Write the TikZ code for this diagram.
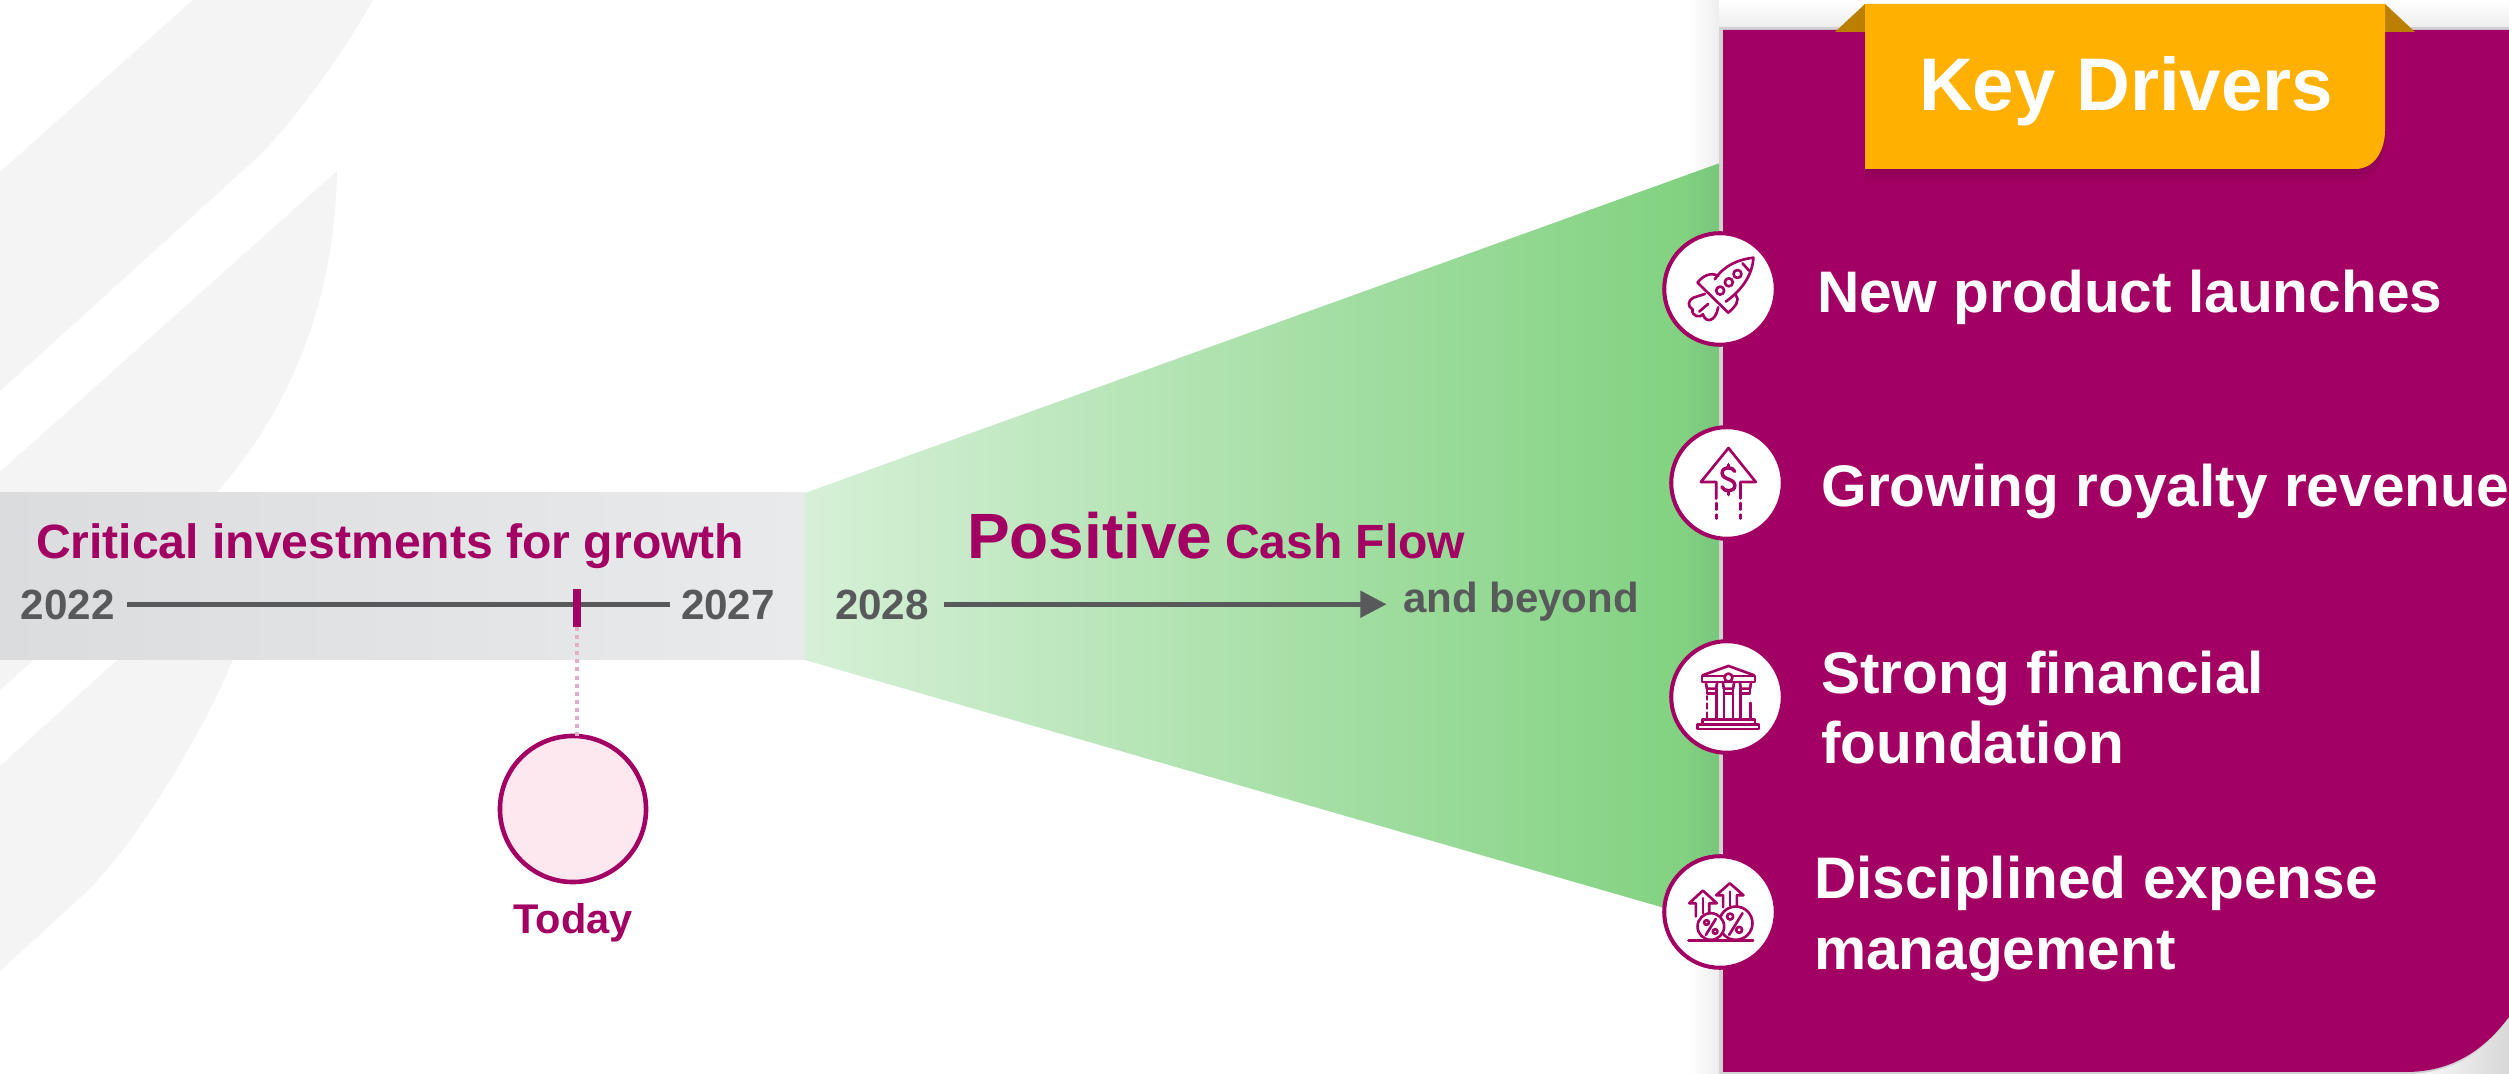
\documentclass[tikz,border=0pt]{standalone}
\usepackage{fontspec}
\setmainfont{Liberation Sans}
\usetikzlibrary{arrows.meta}
\definecolor{mag}{HTML}{A20063}
\definecolor{gry}{HTML}{58595B}
\definecolor{wing}{HTML}{F4F4F4}
\definecolor{amber}{HTML}{FFB000}
\definecolor{foldc}{HTML}{BC8000}
\definecolor{edgeg}{HTML}{D2D2D4}
\definecolor{shadowc}{HTML}{8E0056}
\definecolor{softg}{HTML}{EEEEEE}
\definecolor{bandl}{HTML}{DBDCDE}
\definecolor{bandr}{HTML}{E9EAEC}
\definecolor{todayf}{HTML}{FDE8EF}
\definecolor{dotc}{HTML}{E0AFC8}
\pgfdeclarehorizontalshading{greenfade}{100bp}{
  rgb(0bp)=(0.839,0.941,0.843);
  rgb(25bp)=(0.839,0.941,0.843);
  rgb(73bp)=(0.510,0.824,0.506);
  rgb(75bp)=(0.470,0.772,0.486);
  rgb(100bp)=(0.470,0.772,0.486)}
\tikzset{
  txt/.style={inner sep=0pt,outer sep=0pt,anchor=base west,font=\bfseries},
  drv/.style={txt,text=white,font=\fontsize{16.67pt}{20pt}\bfseries},
  yr/.style={txt,text=gry,font=\fontsize{12.0pt}{14pt}\bfseries},
  tline/.style={draw=gry,line width=1.3pt},
  iconc/.style={circle,draw=mag,fill=white,line width=1.15pt,minimum size=1.115cm,inner sep=0pt,outer sep=0pt},
  ic/.style={draw=mag,line width=0.75pt,line join=round,line cap=round},
  zoomA/.style={shift={(16.40cm,-2.00cm)},x=0.00333cm,y=-0.00333cm},
  zoomB/.style={shift={(16.40cm,-6.20cm)},x=0.00333cm,y=-0.00333cm}
}
\begin{document}
\begin{tikzpicture}[x=0.01cm,y=-0.01cm]
\useasboundingbox (0,0) rectangle (2509,1074);
\fill[white] (0,0) rectangle (2509,1074);
% background wings
\fill[wing] (0,172) -- (193,0) -- (373,0) .. controls (345,50) and (292,126) .. (250,164) -- (0,391) -- cycle;
\fill[wing] (0,472) -- (337,171) .. controls (335,300) and (290,410) .. (217,492) -- (100,600) -- (0,690) -- cycle;
\fill[wing] (0,766) -- (250,540) -- (233,659) .. controls (205,730) and (133,849) .. (83,895) -- (0,971) -- cycle;
% soft shadow of the panel
\shade[left color=white,right color=softg] (1690,0) rectangle (1719,1074);
\shade[top color=white,bottom color=softg] (1719,0) rectangle (2509,27);
\shade[left color=white,right color=softg!80!gray] (2400,1000) rectangle (2509,1074);
% grey band and green funnel
\shade[left color=bandl,right color=bandr] (0,493) rectangle (805,660);
\shade[shading=greenfade] (805,493) -- (1720,163) -- (1720,924) -- (805,660) -- cycle;
% panel
\fill[edgeg] (1719,27) -- (2509,27) -- (2509,1017) .. controls (2495,1037) and (2465,1074) .. (2406,1074) -- (1719,1074) -- cycle;
\fill[mag] (1723,30) -- (2509,30) -- (2509,1017) .. controls (2495,1035) and (2465,1072) .. (2406,1072) -- (1723,1072) -- cycle;
% banner shadow layers
\foreach \d/\m in {14/15,11/35,8/55,5/75,2/100}{
  \fill[shadowc!\m!mag] (1865,30+\d) -- (2385,30+\d) -- (2385,130+\d) .. controls (2385,150+\d) and (2375,169+\d) .. (2355,169+\d) -- (1865,169+\d) -- cycle;
}
% banner folds and banner
\fill[foldc] (1865,4) -- (1835,32) -- (1865,32) -- cycle;
\fill[foldc] (2385,4) -- (2415,32) -- (2385,32) -- cycle;
\fill[amber] (1865,4) -- (2385,4) -- (2385,130) .. controls (2385,150) and (2375,169) .. (2355,169) -- (1865,169) -- cycle;
\node[txt,text=white,font=\fontsize{21.2pt}{25pt}\bfseries] (title) at (1919,111) {Key Drivers};
% left timeline
\node[txt,text=mag,font=\fontsize{13.68pt}{16pt}\bfseries] (crit) at (36,559) {Critical investments for growth};
\node[yr] (lab2022) at (21,620) {2022};
\node[yr] (lab2027) at (681,620) {2027};
\draw[tline] ([xshift=0.125cm,yshift=0.012cm]lab2022.east) -- ([xshift=-0.11cm,yshift=0.012cm]lab2027.west);
\node[fill=mag,inner sep=0pt,outer sep=0pt,minimum width=0.08cm,minimum height=0.38cm] (tick) at (577,608) {};
\node[circle,draw=mag,fill=todayf,line width=1.3pt,minimum size=1.46cm,inner sep=0pt,outer sep=0pt] (today) at (573,809) {};
\draw[draw=dotc,line width=1.15pt,dash pattern=on 1.15pt off 1.15pt] (tick.south) -- (tick.south |- today.north);
\node[txt,text=mag,font=\fontsize{11.8pt}{14pt}\bfseries,anchor=base] (todayl) at (573,934) {Today};
% positive cash flow
\node[txt,text=mag,font=\fontsize{18.2pt}{21pt}\bfseries] (pos) at (967,559) {Positive};
\node[txt,text=mag,font=\fontsize{13.66pt}{16pt}\bfseries] (cash) at (1225,559) {Cash Flow};
\node[yr] (lab2028) at (835,620) {2028};
\node[yr,font=\fontsize{11.95pt}{14pt}\bfseries] (beyond) at (1403,613) {and beyond};
\draw[tline,-{Triangle[length=0.26cm,width=0.26cm]}] ([xshift=0.15cm,yshift=0.012cm]lab2028.east) -- ([xshift=-0.165cm,yshift=0.012cm]lab2028.east -| beyond.west);
% driver texts
\node[drv] (d1) at (1817,313) {New product launches};
\node[drv] (d2) at (1821.5,507) {Growing royalty revenue};
\node[drv] (d3a) at (1821,694) {Strong financial};
\node[drv] (d3b) at (1821,764) {foundation};
\node[drv] (d4a) at (1814,899) {Disciplined expense};
\node[drv] (d4b) at (1814,970) {management};
% icon circles
\node[iconc] (i1) at (1720,289) {};
\node[iconc] (i2) at (1727,483) {};
\node[iconc] (i3) at (1727,697) {};
\node[iconc] (i4) at (1720,912) {};
% rocket
\begin{scope}[zoomA]
\draw[ic] (170,248) -- (262,338);
\draw[ic] (170,248) .. controls (185,228) and (210,215) .. (232,228);
\draw[ic] (222,238) .. controls (250,195) and (295,178) .. (338,173) .. controls (335,220) and (310,265) .. (255,305);
\draw[ic] (285,285) .. controls (298,300) and (285,320) .. (262,338);
\draw[ic] (305,190) -- (325,212);
\draw[ic] (238,272) circle[radius=12];
\draw[ic] (264,247) circle[radius=12];
\draw[ic] (290,222) circle[radius=12];
\draw[ic] (192,282) -- (158,293) .. controls (140,300) and (140,322) .. (155,328) .. controls (150,350) and (180,355) .. (186,343) .. controls (195,372) and (225,365) .. (232,322);
\draw[ic] (175,335) -- (202,312);
% arrow with dollar
\draw[ic] (226,897) -- (226,847) -- (180,847) -- (263,745) -- (345,847) -- (299,847) -- (299,897);
\draw[ic] (226,910) -- (226,930) (226,945) -- (226,957);
\draw[ic] (299,910) -- (299,930) (299,945) -- (299,957);
\draw[ic,line width=1pt] (282,815) .. controls (275,800) and (244,800) .. (244,820) .. controls (244,842) and (282,835) .. (282,858) .. controls (282,878) and (250,878) .. (243,862);
\draw[ic,line width=1pt] (263,795) -- (263,803) (263,875) -- (263,885);
\end{scope}
% bank and percent icons
\begin{scope}[zoomB]
\draw[ic] (185,165) -- (263,137) -- (340,165);
\draw[ic] (183,167) rectangle (343,185);
\draw[ic,fill=white] (263,172) circle[radius=12];
\draw[ic] (195,185) -- (198,205) -- (226,205) -- (229,185);
\draw[ic] (246,185) -- (249,205) -- (277,205) -- (280,185);
\draw[ic] (297,185) -- (300,205) -- (328,205) -- (331,185);
\draw[ic] (198,205) -- (198,220) -- (226,220) -- (226,205);
\draw[ic] (249,205) -- (249,220) -- (277,220) -- (277,205);
\draw[ic] (300,205) -- (300,220) -- (328,220) -- (328,205);
\foreach \vx in {226,249,277,300}{\draw[ic] (\vx,220) -- (\vx,297);}
\draw[ic] (198,228) -- (198,238) (198,250) -- (198,265) (198,277) -- (198,297);
\draw[ic] (329,248) -- (329,297);
\draw[ic] (185,297) rectangle (343,312);
\draw[ic] (170,312) rectangle (355,327);
% percent coins
\draw[ic] (143,962) -- (337,962);
\draw[ic] (165,890) -- (165,850) -- (145,850) -- (186,812) -- (228,850) -- (205,850) -- (205,882);
\draw[ic] (186,835) -- (186,880);
\draw[ic] (247,862) -- (247,826) -- (226,826) -- (267,790) -- (308,826) -- (288,826) -- (288,860);
\draw[ic] (267,815) -- (267,858);
\draw[ic,fill=white] (285,910) circle[radius=50];
\draw[ic,fill=white] (210,920) circle[radius=40];
\draw[ic] (195,945) -- (225,897);
\draw[ic] (197,908) circle[radius=7];
\draw[ic] (223,935) circle[radius=7];
\draw[ic] (265,945) -- (305,880);
\draw[ic] (268,890) circle[radius=9];
\draw[ic] (295,930) circle[radius=9];
\end{scope}
\end{tikzpicture}
\end{document}
